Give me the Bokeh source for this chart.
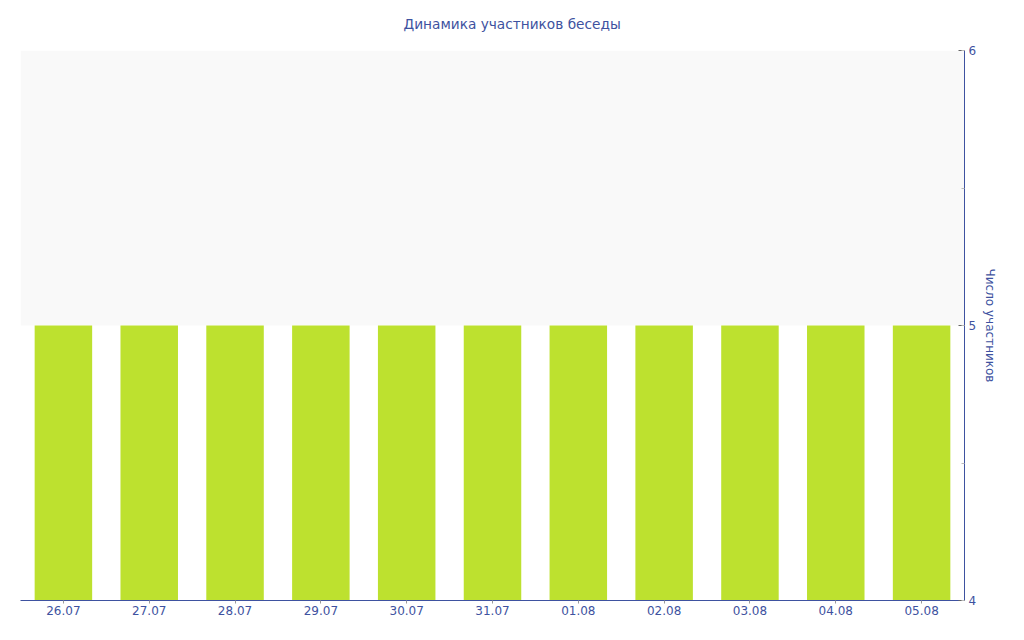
from bokeh.plotting import figure
from bokeh.models import BoxAnnotation, SingleIntervalTicker, Range1d, Title
from bokeh.embed import file_html
from bokeh.resources import INLINE

dates = ["26.07", "27.07", "28.07", "29.07", "30.07", "31.07", "01.08", "02.08", "03.08", "04.08", "05.08"]
members = [5, 5, 5, 5, 5, 5, 5, 5, 5, 5, 5]
y_min, y_max = 4, 6
title_text = "Динамика участников беседы"

BLUE = "#3e52a0"
TICK = "#999999"

p = figure(x_range=dates, y_range=Range1d(y_min, y_max),
           frame_width=944, frame_height=550,
           output_backend="svg", toolbar_location=None, y_axis_location="right",
           min_border_left=20, min_border_right=52, min_border_bottom=32, min_border_top=50)

p.add_layout(BoxAnnotation(bottom=5, top=6, fill_color="#f9f9f9", fill_alpha=1, line_color=None, level="underlay"))

p.vbar(x=dates, top=members, bottom=y_min, width=0.67, fill_color="#bde12f", line_color=None)

p.add_layout(Title(text=" ", text_font_size="2px"), "above")
p.add_layout(Title(text=title_text, align="left", offset=383, text_color=BLUE,
                   text_font="DejaVu Sans", text_font_size="13.7px", text_font_style="normal"), "above")

p.xgrid.grid_line_color = None
p.ygrid.grid_line_color = None
p.outline_line_color = None
p.background_fill_color = "white"

xa = p.xaxis[0]
xa.axis_line_color = BLUE
xa.major_label_text_color = BLUE
xa.major_label_text_font = "DejaVu Sans"
xa.major_label_text_font_size = "12px"
xa.major_tick_line_color = TICK
xa.major_tick_in = 0
xa.major_tick_out = 3
xa.minor_tick_line_color = None
xa.major_label_standoff = 2

ya = p.yaxis[0]
ya.ticker = SingleIntervalTicker(interval=1, num_minor_ticks=2)
ya.axis_line_color = BLUE
ya.major_label_text_color = BLUE
ya.major_label_text_font = "DejaVu Sans"
ya.major_label_text_font_size = "12px"
ya.major_tick_line_color = "#666666"
ya.major_tick_in = 6
ya.major_tick_out = 0
ya.minor_tick_line_color = "#bbbbbb"
ya.minor_tick_in = 3
ya.minor_tick_out = 0
ya.major_label_standoff = 4
ya.axis_label = "Число участников"
ya.axis_label_text_color = BLUE
ya.axis_label_text_font = "DejaVu Sans"
ya.axis_label_text_font_size = "12px"
ya.axis_label_text_font_style = "normal"
ya.axis_label_standoff = 4

open("out.html", "w").write(file_html(p, INLINE))
